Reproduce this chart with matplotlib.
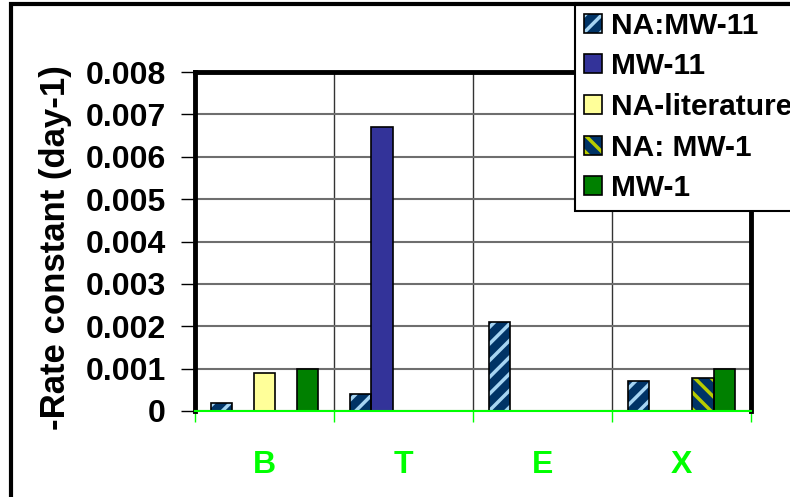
import matplotlib as mpl
mpl.use('Agg')

import matplotlib.pyplot as plt
from matplotlib.patches import Patch, Rectangle
import numpy as np

plt.rcParams['font.family'] = ['Liberation Sans', 'DejaVu Sans']
plt.rcParams['font.weight'] = 'bold'
plt.rcParams['hatch.linewidth'] = 2.5

# DATI (nan = nessuna barra)
categories = ['B', 'T', 'E', 'X']
series = ['NA:MW-11', 'MW-11', 'NA-literature', 'NA: MW-1', 'MW-1']
na_mw11 = [0.0002, 0.0004, 0.0021, 0.0007]
mw11 = [np.nan, 0.0067, np.nan, np.nan]
na_lit = [0.0009, np.nan, np.nan, np.nan]
na_mw1 = [np.nan, np.nan, np.nan, 0.00077]
mw1 = [0.001, np.nan, np.nan, 0.001]
values = [na_mw11, mw11, na_lit, na_mw1, mw1]

# STILI: (colore fondo, colore tratteggio, tratteggio)
styles = [
    ('#003366', '#a6d4f2', '//'),
    ('#333399', None, None),
    ('#ffff99', None, None),
    ('#003366', '#b8cc00', '\\\\'),
    ('#008000', None, None),
]

fig = plt.figure(figsize=(7.9, 4.97), dpi=100)
ax = fig.add_axes([195 / 790, 1 - 411 / 497, (751 - 195) / 790, (411 - 72) / 497])

x = np.arange(len(categories)) + 0.5
w = 0.155
handles = []
for j, (name, vals) in enumerate(zip(series, values)):
    face, hcol, hatch = styles[j]
    pos = x + (j - 2) * w
    if hatch:
        ax.bar(pos, vals, w, color=face, edgecolor=hcol, hatch=hatch, linewidth=0, zorder=3)
        ax.bar(pos, vals, w, fill=False, edgecolor='black', linewidth=1.2, zorder=4)
        h = (Patch(facecolor=face, edgecolor=hcol, hatch=hatch, linewidth=0),
             Patch(fill=False, edgecolor='black', linewidth=1.2))
    else:
        ax.bar(pos, vals, w, color=face, edgecolor='black', linewidth=1.2, zorder=3)
        h = Patch(facecolor=face, edgecolor='black', linewidth=1.2)
    handles.append(h)

# ASSI
ax.set_xlim(0, 4)
ax.set_ylim(0, 0.008)
ax.set_yticks(np.arange(0, 0.0081, 0.001))
ax.set_yticklabels(['0'] + ['%.3f' % v for v in np.arange(0.001, 0.0081, 0.001)])
ax.tick_params(axis='y', labelsize=23, length=10, width=1, pad=11, color='black')

ax.set_xticks([0, 1, 2, 3, 4])
ax.set_xticklabels([])
ax.tick_params(axis='x', which='major', length=8, width=1, color='#00ff00', direction='out')
ax.set_xticks(x, minor=True)
ax.set_xticklabels(categories, minor=True)
ax.tick_params(axis='x', which='minor', length=0, labelsize=23, pad=28, labelcolor='#00ff00')

ax.grid(axis='y', color='#6e6e6e', linewidth=1.5, zorder=0)
ax.grid(axis='x', which='major', color='#333333', linewidth=1, zorder=0)
ax.set_axisbelow(True)

for s in ['left', 'top', 'right']:
    ax.spines[s].set_linewidth(3.5)
    ax.spines[s].set_color('black')
ax.spines['bottom'].set_color('#00ff00')
ax.spines['bottom'].set_linewidth(1.5)
ax.spines['bottom'].set_zorder(5)

fig.text(56 / 790, 1 - 247.5 / 497, '-Rate constant (day-1)', rotation=90,
         ha='center', va='center', fontsize=25, fontweight='bold')

# LEGENDA
leg = fig.legend(handles, series, loc='upper left', bbox_to_anchor=(575 / 790, 1 - 3 / 497),
                 fontsize=21.5, frameon=True, fancybox=False, shadow=False,
                 handlelength=0.6, handleheight=0.6, handletextpad=0.3,
                 labelspacing=0.42, borderpad=0.3, borderaxespad=0)
leg.get_frame().set_edgecolor('black')
leg.get_frame().set_linewidth(1.5)
leg.get_frame().set_alpha(1)

# CORNICE ESTERNA
fig.patches.append(Rectangle((11 / 790, -0.1), 1.2, 1 - 4 / 497 + 0.1, transform=fig.transFigure,
                             fill=False, edgecolor='black', linewidth=3, zorder=10))

fig.savefig('out.png', dpi=100)
